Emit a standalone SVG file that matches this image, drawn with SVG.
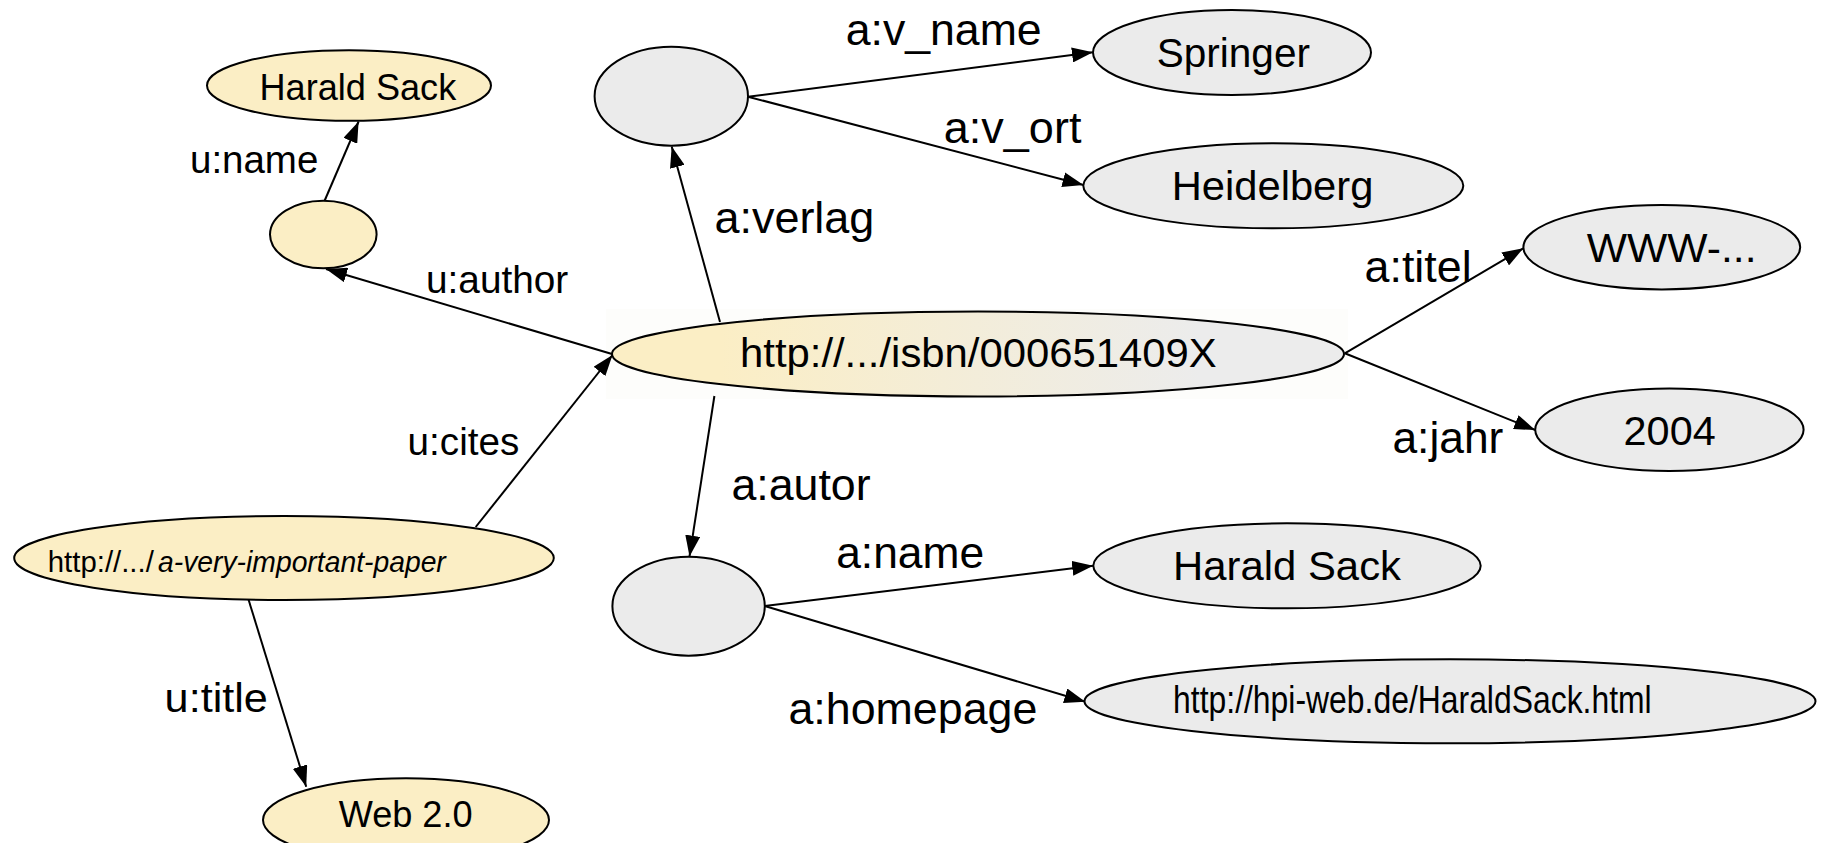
<svg xmlns="http://www.w3.org/2000/svg" width="1822" height="843" viewBox="0 0 1822 843">
<style>
  text { font-family: "Liberation Sans", Arial, sans-serif; fill: #000; }
  .node { stroke: #000; stroke-width: 2; }
  .yel { fill: #fbeec5; }
  .gry { fill: #ebebeb; }
  .edge { stroke: #000; stroke-width: 2; fill: none; marker-end: url(#arr); }
  .lbl-a { font-size: 44px; }
  .lbl-u { font-size: 38px; }
  .ntxt { font-size: 41px; text-anchor: start; }
</style>
<defs>
  <marker id="arr" markerUnits="userSpaceOnUse" markerWidth="21" markerHeight="15" refX="21" refY="7.5" orient="auto">
    <path d="M0,0 L21,7.5 L0,15 Z" fill="#000"/>
  </marker>
  <linearGradient id="mainGrad" gradientUnits="userSpaceOnUse" x1="720" y1="0" x2="1200" y2="0">
    <stop offset="0" stop-color="#fbeec5"/>
    <stop offset="1" stop-color="#ececec"/>
  </linearGradient>
</defs>
<rect width="1822" height="843" fill="#fff"/>
<rect x="606" y="309" width="742" height="90" fill="#fdfdfb"/>

<g id="connectors">
  <line class="edge" x1="324.5" y1="201" x2="358.6" y2="121.5"/>
  <line class="edge" x1="612" y1="354" x2="326" y2="269"/>
  <line class="edge" x1="475.7" y1="527" x2="612.5" y2="355"/>
  <line class="edge" x1="246.8" y1="594" x2="306.2" y2="786.7"/>
  <line class="edge" x1="720" y1="322" x2="671.7" y2="146.5"/>
  <line class="edge" x1="714.4" y1="396" x2="689.5" y2="556.5"/>
  <line class="edge" x1="748" y1="96.7" x2="1093" y2="52.3"/>
  <line class="edge" x1="748" y1="96.7" x2="1083.5" y2="185"/>
  <line class="edge" x1="1344.8" y1="353.3" x2="1523.3" y2="248.3"/>
  <line class="edge" x1="1344.8" y1="353.3" x2="1535.2" y2="430"/>
  <line class="edge" x1="764.7" y1="606" x2="1093.2" y2="565.7"/>
  <line class="edge" x1="764.7" y1="606" x2="1085.3" y2="701.7"/>
  <text class="lbl-u" x="190" y="173.3" textLength="128.3" lengthAdjust="spacingAndGlyphs">u:name</text>
  <text class="lbl-u" x="426" y="292.7" textLength="142.3" lengthAdjust="spacingAndGlyphs">u:author</text>
  <text class="lbl-u" x="407.6" y="455" textLength="111.7" lengthAdjust="spacingAndGlyphs">u:cites</text>
  <text class="lbl-u" x="164.6" y="711.7" textLength="103.3" lengthAdjust="spacingAndGlyphs" style="font-size:41px">u:title</text>
  <text class="lbl-a" x="845.7" y="45" textLength="196" lengthAdjust="spacingAndGlyphs">a:v_name</text>
  <text class="lbl-a" x="943.8" y="143.3" textLength="137.6" lengthAdjust="spacingAndGlyphs">a:v_ort</text>
  <text class="lbl-a" x="714.4" y="233.3" textLength="160" lengthAdjust="spacingAndGlyphs">a:verlag</text>
  <text class="lbl-a" x="1364.6" y="281.7" textLength="107" lengthAdjust="spacingAndGlyphs">a:titel</text>
  <text class="lbl-a" x="1392.4" y="453.3" textLength="111" lengthAdjust="spacingAndGlyphs">a:jahr</text>
  <text class="lbl-a" x="731.4" y="500" textLength="139.2" lengthAdjust="spacingAndGlyphs">a:autor</text>
  <text class="lbl-a" x="836.2" y="567.7" textLength="148" lengthAdjust="spacingAndGlyphs">a:name</text>
  <text class="lbl-a" x="788.4" y="724" textLength="249" lengthAdjust="spacingAndGlyphs">a:homepage</text>
</g>

<g id="n-harald-yellow">
  <ellipse class="node yel" cx="349" cy="85.5" rx="142" ry="35.3"/>
  <text x="259.5" y="100" style="font-size:36px" textLength="196.7" lengthAdjust="spacingAndGlyphs">Harald Sack</text>
</g>
<g id="n-blank-yellow">
  <ellipse class="node yel" cx="323.3" cy="234.5" rx="53.3" ry="33.8"/>
</g>
<g id="n-main">
  <ellipse class="node" fill="url(#mainGrad)" cx="978" cy="354" rx="366" ry="42.5"/>
  <text class="ntxt" x="740" y="367.3" textLength="476.7" lengthAdjust="spacingAndGlyphs">http://.../isbn/000651409X</text>
</g>
<g id="n-blank-top">
  <ellipse class="node gry" cx="671.3" cy="96.2" rx="76.7" ry="49.5"/>
</g>
<g id="n-springer">
  <ellipse class="node gry" cx="1232" cy="52.5" rx="139" ry="42.5"/>
  <text class="ntxt" x="1156.7" y="66.7" textLength="153.3" lengthAdjust="spacingAndGlyphs">Springer</text>
</g>
<g id="n-heidelberg">
  <ellipse class="node gry" cx="1273.3" cy="185.8" rx="190" ry="42.5"/>
  <text class="ntxt" x="1171.7" y="200" textLength="201.7" lengthAdjust="spacingAndGlyphs">Heidelberg</text>
</g>
<g id="n-www">
  <ellipse class="node gry" cx="1661.8" cy="247.2" rx="138.4" ry="42.2"/>
  <text class="ntxt" x="1586.8" y="261.7" textLength="169.7" lengthAdjust="spacingAndGlyphs">WWW-...</text>
</g>
<g id="n-2004">
  <ellipse class="node gry" cx="1669.4" cy="429.7" rx="134.2" ry="41.3"/>
  <text class="ntxt" x="1623.6" y="445" textLength="92.1" lengthAdjust="spacingAndGlyphs">2004</text>
</g>
<g id="n-blank-bottom">
  <ellipse class="node gry" cx="688.6" cy="606.2" rx="76.2" ry="49.5"/>
</g>
<g id="n-harald-gray">
  <ellipse class="node gry" cx="1287" cy="565.8" rx="193.7" ry="42.5"/>
  <text class="ntxt" x="1173.1" y="580" textLength="227.9" lengthAdjust="spacingAndGlyphs">Harald Sack</text>
</g>
<g id="n-homepage">
  <ellipse class="node gry" cx="1450" cy="701.3" rx="365.5" ry="42"/>
  <text x="1173.1" y="713.3" style="font-size:39px" textLength="478.6" lengthAdjust="spacingAndGlyphs">http://hpi-web.de/HaraldSack.html</text>
</g>
<g id="n-paper">
  <ellipse class="node yel" cx="284" cy="558" rx="269.8" ry="42"/>
  <text x="47.8" y="571.7" style="font-size:30px"><tspan textLength="106" lengthAdjust="spacingAndGlyphs">http://.../</tspan><tspan x="158" style="font-style:italic" textLength="287.8" lengthAdjust="spacingAndGlyphs">a-very-important-paper</tspan></text>
</g>
<g id="n-web20">
  <ellipse class="node yel" cx="406" cy="820" rx="143" ry="41.7"/>
  <text x="338.7" y="827.3" style="font-size:36px" textLength="133.9" lengthAdjust="spacingAndGlyphs">Web 2.0</text>
</g>
</svg>
